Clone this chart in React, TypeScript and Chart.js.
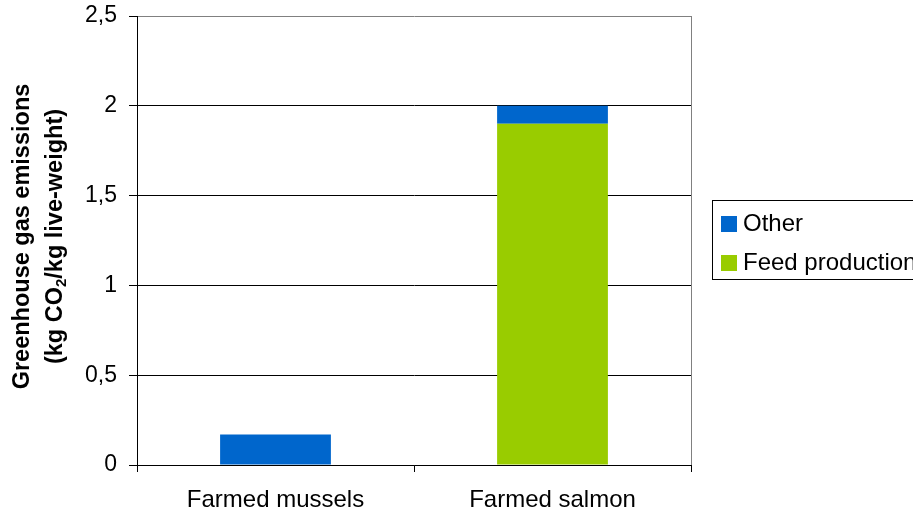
import React, { useEffect, useRef } from "react";
import { Chart, registerables } from "chart.js";

Chart.register(...registerables);

const categories = ["Farmed mussels", "Farmed salmon"];
const feedProduction = [0, 1.9];
const otherEmissions = [0.17, 0.1];
const yTickValues = [0, 0.5, 1, 1.5, 2, 2.5];
const legendOrder = ["Other", "Feed production"];
const titleLine1 = "Greenhouse gas emissions";
const titleLine2Parts = ["(kg CO", "2", "/kg live-weight)"];

const FONT = "'Liberation Sans', Arial, Helvetica, sans-serif";
const BLUE = "#0066CC";
const GREEN = "#99CC00";

const decorPlugin = {
  id: "decor",
  afterDraw(chart: any) {
    const ctx = chart.ctx as CanvasRenderingContext2D;
    const area = chart.chartArea;
    ctx.save();
    // right border (grey)
    ctx.strokeStyle = "#808080";
    ctx.lineWidth = 1;
    ctx.beginPath();
    ctx.moveTo(Math.round(area.right) + 0.5, Math.round(area.top));
    ctx.lineTo(Math.round(area.right) + 0.5, Math.round(area.bottom));
    ctx.stroke();

    // Y-axis title (rotated, two lines, subscript)
    const cy = (area.top + area.bottom) / 2 - 4;
    ctx.fillStyle = "#000";
    ctx.translate(0, cy);
    ctx.rotate(-Math.PI / 2);
    ctx.textBaseline = "alphabetic";
    const big = `bold 23.5px ${FONT}`;
    const small = `bold 15px ${FONT}`;
    ctx.font = big;
    const w1 = ctx.measureText(titleLine1).width;
    ctx.fillText(titleLine1, -w1 / 2, 29);
    const a = ctx.measureText(titleLine2Parts[0]).width;
    const c = ctx.measureText(titleLine2Parts[2]).width;
    ctx.font = small;
    const b = ctx.measureText(titleLine2Parts[1]).width;
    let x = -(a + b + c) / 2;
    ctx.font = big;
    ctx.fillText(titleLine2Parts[0], x, 62);
    x += a;
    ctx.font = small;
    ctx.fillText(titleLine2Parts[1], x, 66);
    x += b;
    ctx.font = big;
    ctx.fillText(titleLine2Parts[2], x, 62);
    ctx.restore();

    // Legend box
    ctx.save();
    ctx.strokeStyle = "#000";
    ctx.lineWidth = 1;
    ctx.strokeRect(712.5, 200.5, 300, 79);
    const ds = chart.data.datasets;
    ctx.font = `24px ${FONT}`;
    ctx.textBaseline = "middle";
    legendOrder.forEach((name, i) => {
      const d = ds.find((q: any) => q.label === name);
      const y = 216 + i * 39;
      ctx.fillStyle = d.backgroundColor;
      ctx.fillRect(721, y, 16, 16);
      ctx.fillStyle = "#000";
      ctx.fillText(name, 743, y + 8);
    });
    ctx.restore();
  },
};

export default function App() {
  const ref = useRef<HTMLCanvasElement>(null);
  useEffect(() => {
    if (!ref.current) return;
    const chart = new Chart(ref.current, {
      type: "bar",
      data: {
        labels: categories,
        datasets: [
          {
            label: "Feed production",
            data: feedProduction,
            backgroundColor: GREEN,
            borderWidth: 0,
            categoryPercentage: 1,
            barPercentage: 0.4,
          },
          {
            label: "Other",
            data: otherEmissions,
            backgroundColor: BLUE,
            borderWidth: 0,
            categoryPercentage: 1,
            barPercentage: 0.4,
          },
        ],
      },
      options: {
        responsive: false,
        animation: false,
        layout: { padding: { left: 0, right: 222, top: 16, bottom: 0 } },
        plugins: {
          legend: { display: false },
          tooltip: { enabled: false },
        },
        scales: {
          x: {
            stacked: true,
            offset: true,
            grid: {
              offset: true,
              drawOnChartArea: false,
              drawTicks: true,
              tickLength: 7,
              color: "#000",
            },
            border: { display: true, color: "#000", width: 1 },
            ticks: {
              color: "#000",
              font: { family: FONT, size: 24 },
              padding: 14,
            },
            afterFit(scale: any) {
              scale.height = 47;
              scale.paddingLeft = 0;
              scale.paddingRight = 0;
            },
          },
          y: {
            stacked: true,
            min: 0,
            max: 2.5,
            afterBuildTicks(scale: any) {
              scale.ticks = yTickValues.map((v) => ({ value: v }));
            },
            grid: {
              color: (c: any) => (c.tick && c.tick.value === 2.5 ? "#808080" : "#000"),
              tickColor: "#000",
              tickLength: 8,
              lineWidth: 1,
            },
            border: { display: true, color: "#000", width: 1 },
            ticks: {
              color: "#000",
              font: { family: FONT, size: 23 },
              padding: 12,
              callback: (v: any) => String(v).replace(".", ","),
            },
            afterFit(scale: any) {
              scale.width = 137;
              scale.paddingTop = 0;
              scale.paddingBottom = 0;
            },
          },
        },
      },
      plugins: [decorPlugin],
    });
    return () => chart.destroy();
  }, []);
  return (
    <div style={{ position: "absolute", left: 0, top: 0, width: 913, height: 512, background: "#fff" }}>
      <canvas ref={ref} width={913} height={512} />
    </div>
  );
}
